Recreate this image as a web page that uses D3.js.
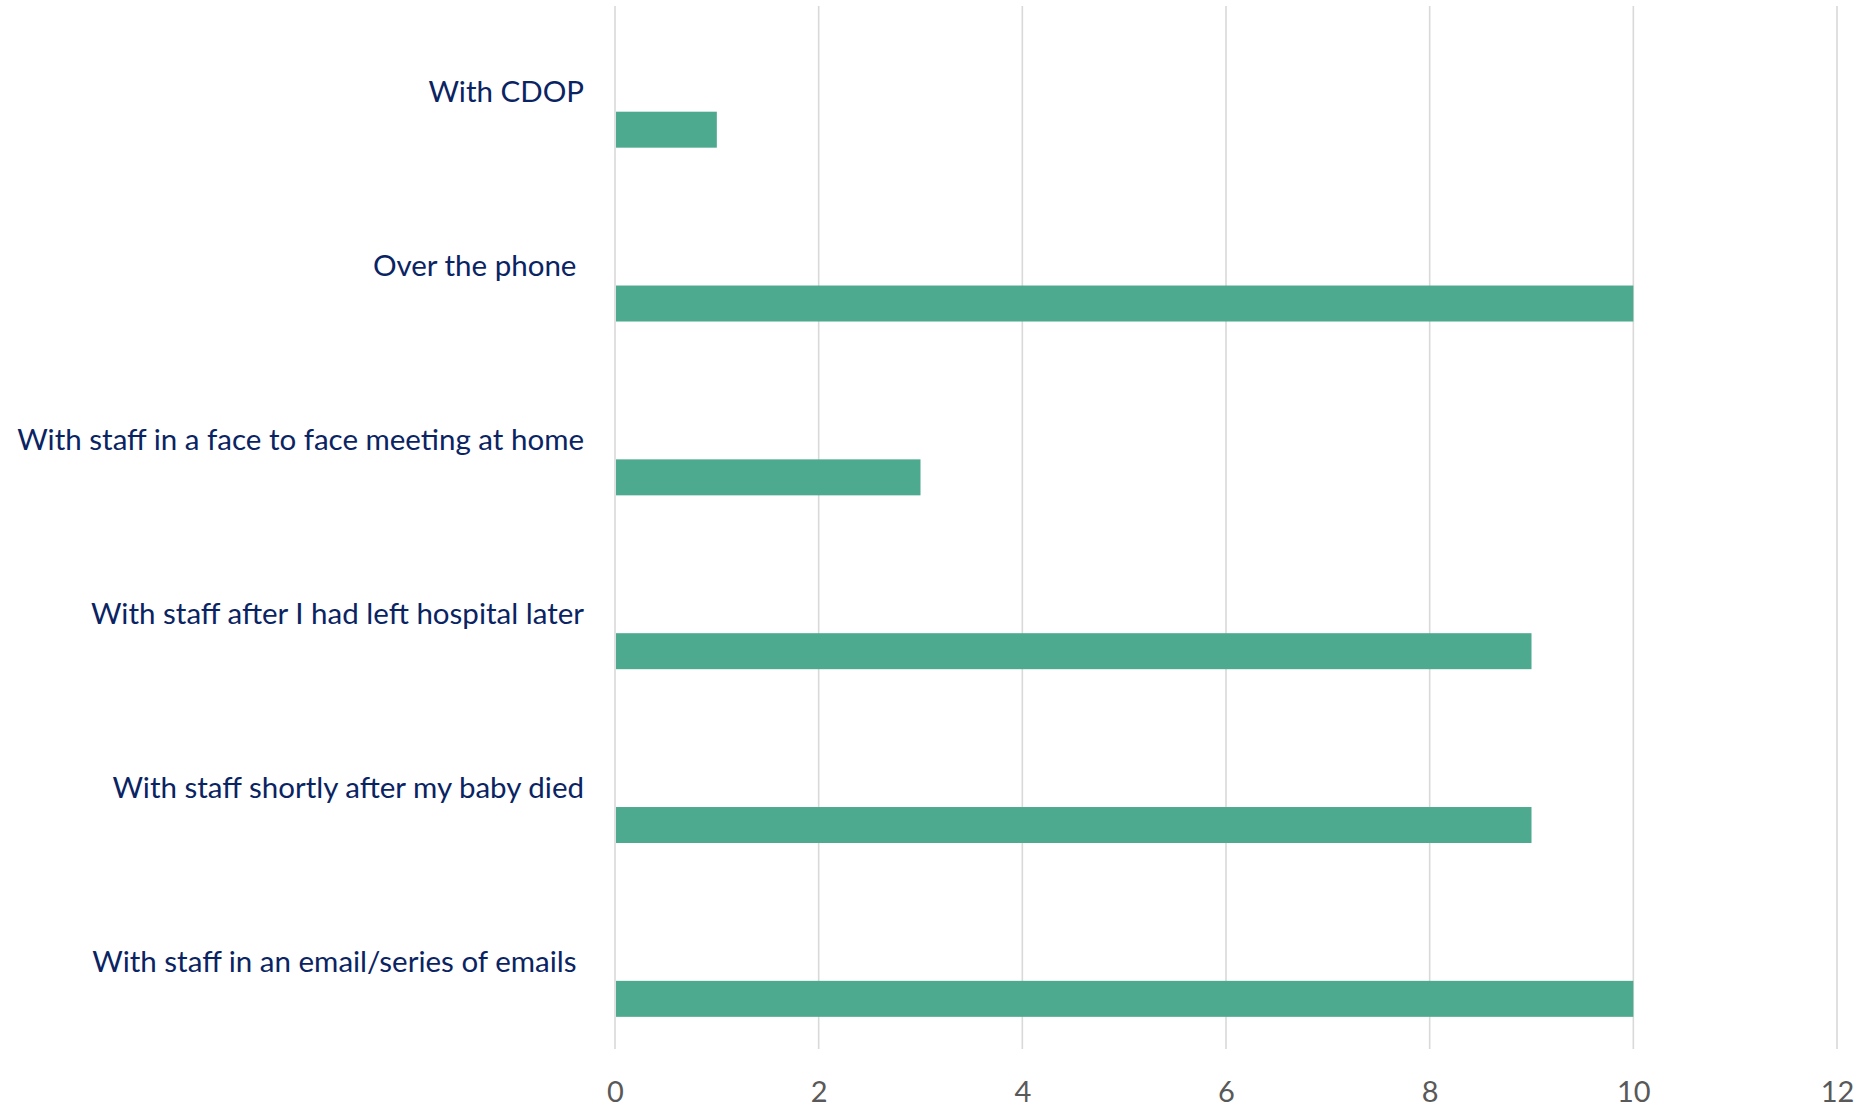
<!DOCTYPE html>
<html>
<head>
<meta charset="utf-8">
<script src="https://cdn.jsdelivr.net/npm/d3@7"></script>
<style>
  html, body { margin: 0; padding: 0; background: #fff; }
  svg { display: block; }
  text { white-space: pre; }
</style>
</head>
<body>
<svg id="chart" width="1864" height="1109"></svg>
<script>
const categories = [
  "With CDOP",
  "Over the phone ",
  "With staff in a face to face meeting at home",
  "With staff after I had left hospital later",
  "With staff shortly after my baby died",
  "With staff in an email/series of emails "
];
const values = [1, 10, 3, 9, 9, 10];
const tickValues = [0, 2, 4, 6, 8, 10, 12];

const svg = d3.select("#chart");
const x = d3.scaleLinear().domain([0, 12]).range([615, 1837]);
const y = d3.scaleBand().domain(categories).range([6, 1049]).paddingInner(0).paddingOuter(0);
const bw = y.bandwidth();

// gridlines
svg.append("g").selectAll("line").data(tickValues).join("line")
  .attr("x1", d => x(d)).attr("x2", d => x(d))
  .attr("y1", 6).attr("y2", 1049)
  .attr("stroke", "#d9d9d9").attr("stroke-width", 1.6);

// bars
svg.append("g").selectAll("rect").data(categories).join("rect")
  .attr("x", x(0) + 1)
  .attr("y", d => y(d) + bw * 0.608)
  .attr("width", (d, i) => x(values[i]) - x(0) - 1)
  .attr("height", bw * 0.207)
  .attr("fill", "#4DAA8F");

// axis tick labels
const axis = d3.axisBottom(x).tickValues(tickValues).tickSize(0).tickPadding(0);
const gx = svg.append("g").attr("transform", "translate(0,1081)").call(axis);
gx.select(".domain").remove();
gx.selectAll("text")
  .attr("font-family", "Lato, 'Open Sans', sans-serif")
  .attr("font-size", 29)
  .attr("fill", "#595959")
  .attr("dy", "0.71em");

// category labels
const labels = svg.append("g").selectAll("text").data(categories).join("text")
  .attr("x", 584)
  .attr("y", d => y(d) + bw * 0.555)
  .attr("text-anchor", "end")
  .attr("font-family", "Lato, 'Open Sans', sans-serif")
  .attr("font-size", 28)
  .attr("fill", "#0A2463")
  .text(d => d);

// fit font size so the longest label spans like the reference (~567px)
let maxW = 0;
labels.each(function() { maxW = Math.max(maxW, this.getComputedTextLength()); });
const fs = 28 * 567 / maxW;
labels.attr("font-size", fs);
</script>
</body>
</html>
